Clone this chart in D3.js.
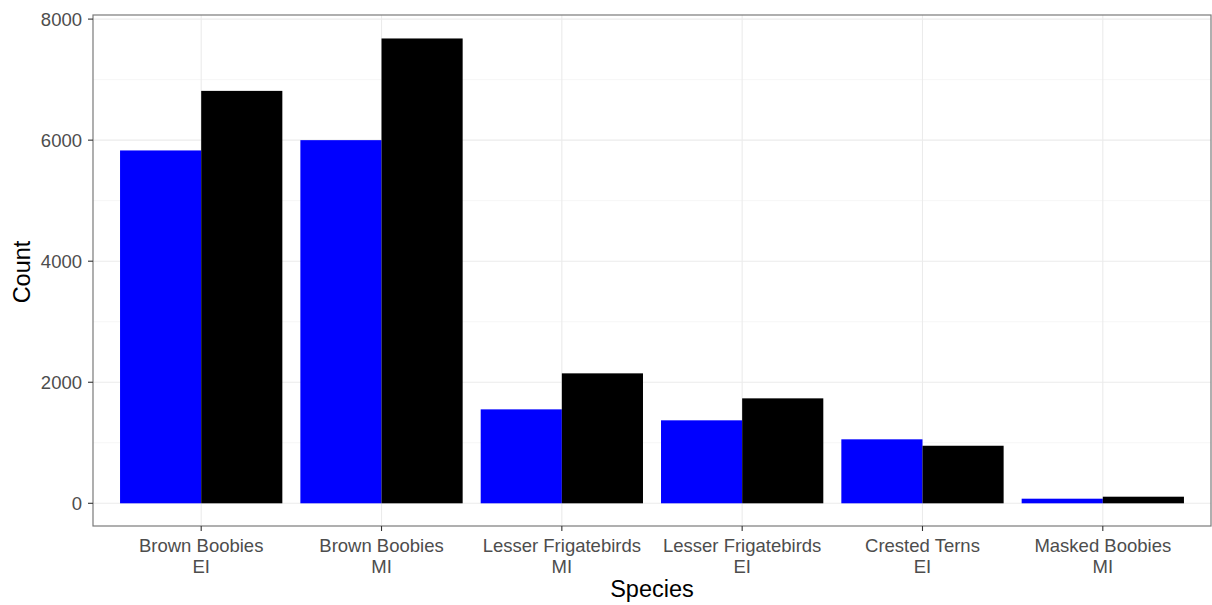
<!DOCTYPE html>
<html><head><meta charset="utf-8">
<script src="https://cdn.jsdelivr.net/npm/d3@7"></script>
<style>body{margin:0;background:#fff;} text{font-family:"Liberation Sans",Arial,sans-serif;}</style>
</head><body>
<svg id="c" width="1212" height="605"></svg>
<script>
const categories = ["Brown Boobies\nEI","Brown Boobies\nMI","Lesser Frigatebirds\nMI","Lesser Frigatebirds\nEI","Crested Terns\nEI","Masked Boobies\nMI"];
const seriesNames = ["A","B"];
const seriesA = [5830, 6000, 1552, 1371, 1057, 76];
const seriesB = [6814, 7680, 2147, 1734, 951, 109];
const yTicks = [0, 2000, 4000, 6000, 8000];
const yMinor = [1000, 3000, 5000, 7000];
const colors = ["#0000ff", "#000000"];

const svg = d3.select("#c");
const L = 93, R = 1211, T = 15, B = 526;
const x = d3.scalePoint().domain(categories).range([L, R]).padding(0.6);
const step = x.step();
const bw = step * 0.9 / 2;
const y = d3.scaleLinear().domain([0, 8000]).range([503.3, 19.1]);

// grid
const g = svg.append("g");
g.selectAll(".mi").data(yMinor).join("line")
  .attr("x1", L).attr("x2", R).attr("y1", d => y(d)).attr("y2", d => y(d))
  .attr("stroke", "#f4f4f4").attr("stroke-width", 0.8);
g.selectAll(".ma").data(yTicks).join("line")
  .attr("x1", L).attr("x2", R).attr("y1", d => y(d)).attr("y2", d => y(d))
  .attr("stroke", "#ebebeb").attr("stroke-width", 1.1);
g.selectAll(".vx").data(categories).join("line")
  .attr("y1", T).attr("y2", B).attr("x1", d => x(d)).attr("x2", d => x(d))
  .attr("stroke", "#ebebeb").attr("stroke-width", 1.1);

// bars
const data = [];
categories.forEach((c, i) => {
  data.push({c, s: 0, v: seriesA[i]});
  data.push({c, s: 1, v: seriesB[i]});
});
svg.append("g").selectAll("rect").data(data).join("rect")
  .attr("x", d => x(d.c) - bw + d.s * bw)
  .attr("width", bw)
  .attr("y", d => y(d.v))
  .attr("height", d => y(0) - y(d.v))
  .attr("fill", d => colors[d.s]);

// panel border
svg.append("rect").attr("x", L).attr("y", T).attr("width", R - L).attr("height", B - T)
  .attr("fill", "none").attr("stroke", "#7a7a7a").attr("stroke-width", 1.2);

// y axis
const ya = svg.append("g");
yTicks.forEach(t => {
  ya.append("line").attr("x1", L - 5).attr("x2", L).attr("y1", y(t)).attr("y2", y(t))
    .attr("stroke", "#333").attr("stroke-width", 1.1);
  ya.append("text").attr("x", L - 11).attr("y", y(t)).attr("dy", "0.36em")
    .attr("text-anchor", "end").attr("font-size", 18.5).attr("fill", "#4d4d4d").text(t);
});
// x axis
const xa = svg.append("g");
categories.forEach(c => {
  xa.append("line").attr("x1", x(c)).attr("x2", x(c)).attr("y1", B).attr("y2", B + 5)
    .attr("stroke", "#333").attr("stroke-width", 1.1);
  const lines = c.split("\n");
  const t = xa.append("text").attr("text-anchor", "middle").attr("font-size", 18.5).attr("fill", "#4d4d4d");
  lines.forEach((ln, k) => t.append("tspan").attr("x", x(c)).attr("y", 551.5 + k * 21.6).text(ln));
});
svg.append("text").attr("x", (L + R) / 2).attr("y", 597).attr("text-anchor", "middle")
  .attr("font-size", 23.5).attr("fill", "#000").text("Species");
svg.append("text").attr("transform", `translate(30,272) rotate(-90)`)
  .attr("text-anchor", "middle").attr("font-size", 23.5).attr("fill", "#000").text("Count");
</script>
</body></html>
